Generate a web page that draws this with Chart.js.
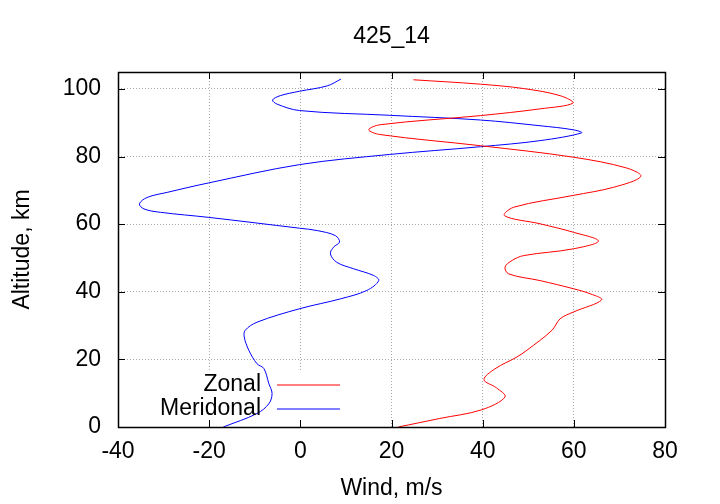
<!DOCTYPE html>
<html>
<head>
<meta charset="utf-8">
<script src="https://cdn.jsdelivr.net/npm/chart.js@4.4.0/dist/chart.umd.min.js"></script>
<style>
  html, body { margin: 0; padding: 0; background: #fff; }
  #wrap { width: 720px; height: 504px; }
</style>
</head>
<body>
<div id="wrap"><canvas id="windChart" width="720" height="504"></canvas></div>
<script>
// ── data (wind m/s vs altitude km) ──────────────────────────────────────────
const TITLE = '425_14';
const X_TICKS = [-40, -20, 0, 20, 40, 60, 80];
const Y_TICKS = [0, 20, 40, 60, 80, 100];

const zonalWind = [21.5, 30.5, 39.8, 44.9, 43.0, 40.3, 42.7, 47.5, 49.7, 55.2, 57.0, 59.9, 66.1, 63.6, 59.9, 52.6,
  45.7, 44.9, 46.5, 49.0, 59.9, 65.4, 59.9, 52.6, 44.8, 46.8, 59.9, 68.7, 74.7, 71.6, 59.9, 39.5,
  17.5, 15.0, 17.5, 39.5, 52.6, 59.8, 57.0, 49.0, 39.5, 24.8];
const zonalAlt  = [0, 2.5, 5.1, 8.9, 11.6, 14.0, 17.2, 20.7, 22.7, 28.6, 32.0, 34.0, 37.6, 39.4, 40.9, 43.3,
  45.3, 47.3, 49.3, 50.7, 52.7, 55.0, 57.6, 60.1, 62.5, 65.0, 68.5, 70.9, 74.1, 76.6, 79.8, 83.2,
  86.5, 87.9, 89.4, 92.1, 94.1, 95.8, 98.0, 100.1, 101.4, 102.7];

const meridWind = [-16.9, -9.5, -6.9, -6.2, -6.9, -8.0, -9.5, -11.3, -12.3, -12.1, -9.5, -0.1, 8.8, 14.6, 17.2,
  16.1, 11.7, 8.0, 6.6, 7.3, 8.6, 7.7, 3.7, -0.2, -20.1, -30.7, -34.3, -35.3, -33.6, -29.2, -20.1,
  -0.2, 19.5, 39.5, 52.6, 61.7, 59.9, 52.6, 39.5, 19.5, -0.2, -5.1, -6.1, -4.4, -0.2, 5.9, 8.9];
const meridAlt  = [0, 4.0, 6.9, 9.9, 12.8, 17.3, 18.7, 22.7, 26.6, 28.6, 31.0, 35.0, 37.9, 40.4, 43.3,
  44.8, 46.8, 48.7, 51.2, 53.2, 54.7, 56.6, 58.1, 58.8, 62.0, 63.5, 64.5, 66.0, 67.9, 69.4, 72.2,
  77.6, 80.6, 82.9, 84.7, 87.0, 87.9, 89.1, 90.8, 92.2, 93.6, 95.5, 96.7, 98.0, 99.3, 100.9, 102.9];

const SERIES = [
  { label: 'Zonal', wind: zonalWind, alt: zonalAlt, color: '#ff0000' },
  { label: 'Meridonal', wind: meridWind, alt: meridAlt, color: '#0000ff' },
];

const FONT = 'Liberation Sans, Arial, Helvetica, sans-serif';
const FONT_SIZE = 23;
const GRID_COLOR = '#a8a8a8';

// ── gnuplot-ish extras: centered title, frame, inward mirrored ticks, key ───
const gnuplotBits = {
  id: 'gnuplotBits',
  beforeDatasetsDraw(chart) {
    // the key box is opaque, it hides the grid under it
    const { ctx } = chart;
    ctx.save();
    ctx.fillStyle = '#fff';
    ctx.fillRect(150, 372, 196, chart.chartArea.bottom - 372 - 1);
    ctx.restore();
  },
  afterDraw(chart) {
    const { ctx, chartArea: a, scales } = chart;
    ctx.save();
    ctx.strokeStyle = '#000';
    ctx.lineWidth = 1;
    ctx.beginPath();
    X_TICKS.forEach(v => {
      const px = Math.round(scales.x.getPixelForValue(v)) + 0.5;
      ctx.moveTo(px, a.bottom); ctx.lineTo(px, a.bottom - 7);
      ctx.moveTo(px, a.top); ctx.lineTo(px, a.top + 7);
    });
    Y_TICKS.forEach(v => {
      const py = Math.round(scales.y.getPixelForValue(v)) + 0.5;
      ctx.moveTo(a.left, py); ctx.lineTo(a.left + 7, py);
      ctx.moveTo(a.right, py); ctx.lineTo(a.right - 7, py);
    });
    ctx.stroke();
    ctx.lineWidth = 1.5;
    ctx.strokeRect(Math.round(a.left) + 0.5, Math.round(a.top) + 0.5,
      Math.round(a.right - a.left), Math.round(a.bottom - a.top));

    // title, centered over the plot
    ctx.fillStyle = '#000';
    ctx.font = FONT_SIZE + 'px ' + FONT;
    ctx.textAlign = 'center';
    ctx.textBaseline = 'middle';
    ctx.fillText(TITLE, (a.left + a.right) / 2, 37);

    // key: text right-aligned, then a line sample
    ctx.textAlign = 'right';
    ctx.lineWidth = 1;
    chart.data.datasets.forEach((ds, i) => {
      const y = 385 + i * 24;
      ctx.fillStyle = '#000';
      ctx.fillText(ds.label, 261, y);
      ctx.strokeStyle = ds.borderColor;
      ctx.beginPath();
      ctx.moveTo(277, y); ctx.lineTo(340, y);
      ctx.stroke();
    });
    ctx.restore();
  }
};

new Chart(document.getElementById('windChart'), {
  type: 'scatter',
  data: {
    datasets: SERIES.map(s => ({
      label: s.label,
      data: s.wind.map((w, i) => ({ x: w, y: s.alt[i] })),
      showLine: true,
      borderColor: s.color,
      backgroundColor: s.color,
      borderWidth: 1,
      pointRadius: 0,
      tension: 0.35,
    }))
  },
  options: {
    responsive: false,
    animation: false,
    layout: { padding: { top: 72, right: 55, left: 0, bottom: 0 } },
    plugins: { legend: { display: false }, tooltip: { enabled: false } },
    scales: {
      x: {
        type: 'linear', min: -40, max: 80,
        afterFit(scale) { scale.height = 77; },
        afterBuildTicks(scale) { scale.ticks = X_TICKS.map(v => ({ value: v })); },
        border: { display: false, dash: [1, 2] },
        grid: { color: GRID_COLOR, drawTicks: false },
        ticks: { color: '#000', font: { size: FONT_SIZE, family: FONT }, padding: 11, maxRotation: 0 },
        title: { display: true, text: 'Wind, m/s', color: '#000', font: { size: FONT_SIZE, family: FONT }, padding: { top: 0, bottom: 2 } }
      },
      y: {
        type: 'linear', min: 0, max: 105,
        afterFit(scale) { scale.width = 118; },
        afterBuildTicks(scale) { scale.ticks = Y_TICKS.map(v => ({ value: v })); },
        border: { display: false, dash: [1, 2] },
        grid: { color: GRID_COLOR, drawTicks: false },
        ticks: { color: '#000', font: { size: FONT_SIZE, family: FONT }, padding: 17 },
        title: { display: true, text: 'Altitude, km', color: '#000', font: { size: FONT_SIZE, family: FONT }, padding: { top: 9, bottom: 0 } }
      }
    }
  },
  plugins: [gnuplotBits]
});
</script>
</body>
</html>
